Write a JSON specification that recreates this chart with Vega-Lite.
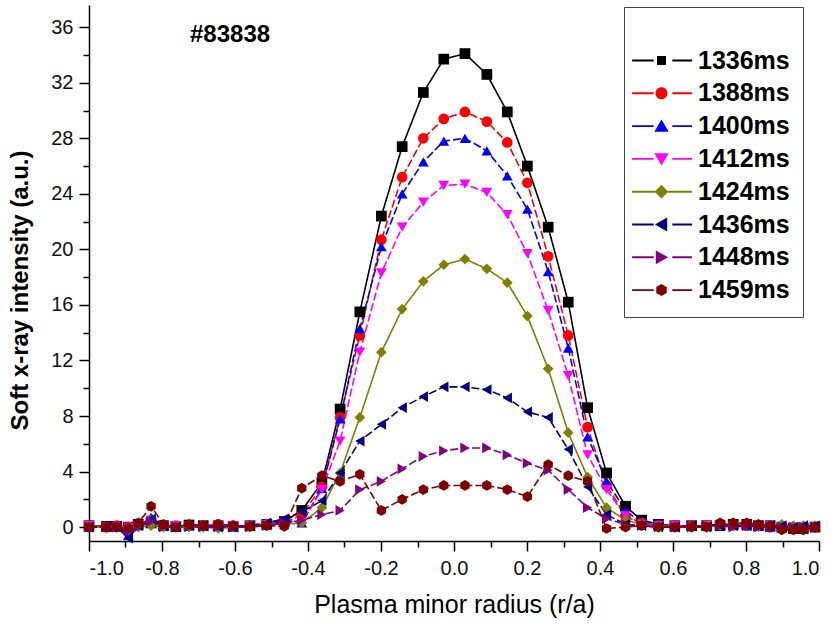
{
  "$schema": "https://vega.github.io/schema/vega-lite/v6.json",
  "autosize": "none",
  "padding": {"left": 89, "top": 5, "right": 17, "bottom": 86},
  "width": 730,
  "height": 536,
  "background": "white",
  "title": {"text": "#83838", "anchor": "start", "frame": "group", "dx": 101, "offset": -54, "baseline": "middle", "fontSize": 24, "fontWeight": "bold", "font": "Liberation Sans", "color": "#000"},
  "config": {
    "view": {"stroke": null},
    "axis": {"labelFont": "Liberation Sans", "titleFont": "Liberation Sans", "labelColor": "#111", "titleColor": "#000", "domainColor": "#000", "tickColor": "#000", "grid": false}
  },
  "data": {"values": [
{"r":-1,"t":"1336ms","v":0.1},{"r":-0.952,"t":"1336ms","v":0.05},{"r":-0.924,"t":"1336ms","v":0.05},{"r":-0.892,"t":"1336ms","v":0},{"r":-0.865,"t":"1336ms","v":0.2},{"r":-0.83,"t":"1336ms","v":0.3},{"r":-0.796,"t":"1336ms","v":0.1},{"r":-0.762,"t":"1336ms","v":0.05},{"r":-0.726,"t":"1336ms","v":0.15},{"r":-0.687,"t":"1336ms","v":0.1},{"r":-0.646,"t":"1336ms","v":0.1},{"r":-0.605,"t":"1336ms","v":0.05},{"r":-0.559,"t":"1336ms","v":0.1},{"r":-0.513,"t":"1336ms","v":0.2},{"r":-0.465,"t":"1336ms","v":0.4},{"r":-0.417,"t":"1336ms","v":1.2},{"r":-0.362,"t":"1336ms","v":3.2},{"r":-0.312,"t":"1336ms","v":8.5},{"r":-0.258,"t":"1336ms","v":15.5},{"r":-0.199,"t":"1336ms","v":22.4},{"r":-0.142,"t":"1336ms","v":27.4},{"r":-0.084,"t":"1336ms","v":31.3},{"r":-0.028,"t":"1336ms","v":33.7},{"r":0.03,"t":"1336ms","v":34.1},{"r":0.09,"t":"1336ms","v":32.6},{"r":0.146,"t":"1336ms","v":29.9},{"r":0.201,"t":"1336ms","v":26.0},{"r":0.258,"t":"1336ms","v":21.6},{"r":0.313,"t":"1336ms","v":16.2},{"r":0.366,"t":"1336ms","v":8.6},{"r":0.418,"t":"1336ms","v":3.9},{"r":0.47,"t":"1336ms","v":1.5},{"r":0.514,"t":"1336ms","v":0.5},{"r":0.56,"t":"1336ms","v":0.2},{"r":0.605,"t":"1336ms","v":0.1},{"r":0.651,"t":"1336ms","v":0.1},{"r":0.692,"t":"1336ms","v":0.1},{"r":0.729,"t":"1336ms","v":0.1},{"r":0.765,"t":"1336ms","v":0.2},{"r":0.802,"t":"1336ms","v":0.2},{"r":0.834,"t":"1336ms","v":0.1},{"r":0.866,"t":"1336ms","v":0.1},{"r":0.898,"t":"1336ms","v":0},{"r":0.93,"t":"1336ms","v":-0.1},{"r":0.957,"t":"1336ms","v":-0.1},{"r":0.989,"t":"1336ms","v":0},
{"r":-1,"t":"1388ms","v":0.1},{"r":-0.952,"t":"1388ms","v":0},{"r":-0.924,"t":"1388ms","v":0.1},{"r":-0.892,"t":"1388ms","v":0},{"r":-0.865,"t":"1388ms","v":0.2},{"r":-0.83,"t":"1388ms","v":0.4},{"r":-0.796,"t":"1388ms","v":0.1},{"r":-0.762,"t":"1388ms","v":0.1},{"r":-0.726,"t":"1388ms","v":0.1},{"r":-0.687,"t":"1388ms","v":0.1},{"r":-0.646,"t":"1388ms","v":0.2},{"r":-0.605,"t":"1388ms","v":0.1},{"r":-0.559,"t":"1388ms","v":0.1},{"r":-0.513,"t":"1388ms","v":0.2},{"r":-0.465,"t":"1388ms","v":0.3},{"r":-0.417,"t":"1388ms","v":0.9},{"r":-0.362,"t":"1388ms","v":2.9},{"r":-0.312,"t":"1388ms","v":7.9},{"r":-0.258,"t":"1388ms","v":13.8},{"r":-0.199,"t":"1388ms","v":20.7},{"r":-0.142,"t":"1388ms","v":25.2},{"r":-0.084,"t":"1388ms","v":28.0},{"r":-0.028,"t":"1388ms","v":29.4},{"r":0.03,"t":"1388ms","v":29.9},{"r":0.09,"t":"1388ms","v":29.2},{"r":0.146,"t":"1388ms","v":27.7},{"r":0.201,"t":"1388ms","v":24.8},{"r":0.258,"t":"1388ms","v":19.5},{"r":0.313,"t":"1388ms","v":13.8},{"r":0.366,"t":"1388ms","v":7.2},{"r":0.418,"t":"1388ms","v":3.0},{"r":0.47,"t":"1388ms","v":0.8},{"r":0.514,"t":"1388ms","v":0.3},{"r":0.56,"t":"1388ms","v":0.1},{"r":0.605,"t":"1388ms","v":0.1},{"r":0.651,"t":"1388ms","v":0.1},{"r":0.692,"t":"1388ms","v":0.1},{"r":0.729,"t":"1388ms","v":0.2},{"r":0.765,"t":"1388ms","v":0.2},{"r":0.802,"t":"1388ms","v":0.1},{"r":0.834,"t":"1388ms","v":0.1},{"r":0.866,"t":"1388ms","v":0},{"r":0.898,"t":"1388ms","v":0},{"r":0.93,"t":"1388ms","v":-0.1},{"r":0.957,"t":"1388ms","v":0},{"r":0.989,"t":"1388ms","v":0},
{"r":-1,"t":"1400ms","v":0},{"r":-0.952,"t":"1400ms","v":0},{"r":-0.924,"t":"1400ms","v":0.1},{"r":-0.892,"t":"1400ms","v":-0.6},{"r":-0.865,"t":"1400ms","v":0.1},{"r":-0.83,"t":"1400ms","v":0.7},{"r":-0.796,"t":"1400ms","v":0.1},{"r":-0.762,"t":"1400ms","v":0},{"r":-0.726,"t":"1400ms","v":0.1},{"r":-0.687,"t":"1400ms","v":0.1},{"r":-0.646,"t":"1400ms","v":0.1},{"r":-0.605,"t":"1400ms","v":0},{"r":-0.559,"t":"1400ms","v":0.1},{"r":-0.513,"t":"1400ms","v":0.3},{"r":-0.465,"t":"1400ms","v":0.5},{"r":-0.417,"t":"1400ms","v":0.3},{"r":-0.362,"t":"1400ms","v":2.8},{"r":-0.312,"t":"1400ms","v":7.8},{"r":-0.258,"t":"1400ms","v":14.3},{"r":-0.199,"t":"1400ms","v":20.2},{"r":-0.142,"t":"1400ms","v":24.0},{"r":-0.084,"t":"1400ms","v":26.3},{"r":-0.028,"t":"1400ms","v":27.8},{"r":0.03,"t":"1400ms","v":28.0},{"r":0.09,"t":"1400ms","v":27.1},{"r":0.146,"t":"1400ms","v":25.3},{"r":0.201,"t":"1400ms","v":22.9},{"r":0.258,"t":"1400ms","v":18.4},{"r":0.313,"t":"1400ms","v":12.9},{"r":0.366,"t":"1400ms","v":6.5},{"r":0.418,"t":"1400ms","v":3.3},{"r":0.47,"t":"1400ms","v":1.2},{"r":0.514,"t":"1400ms","v":0.3},{"r":0.56,"t":"1400ms","v":0.1},{"r":0.605,"t":"1400ms","v":0},{"r":0.651,"t":"1400ms","v":0.1},{"r":0.692,"t":"1400ms","v":0.1},{"r":0.729,"t":"1400ms","v":0.2},{"r":0.765,"t":"1400ms","v":0.1},{"r":0.802,"t":"1400ms","v":0.1},{"r":0.834,"t":"1400ms","v":0.1},{"r":0.866,"t":"1400ms","v":0},{"r":0.898,"t":"1400ms","v":0.1},{"r":0.93,"t":"1400ms","v":0},{"r":0.957,"t":"1400ms","v":0},{"r":0.989,"t":"1400ms","v":0.1},
{"r":-1,"t":"1412ms","v":0.1},{"r":-0.952,"t":"1412ms","v":0},{"r":-0.924,"t":"1412ms","v":0},{"r":-0.892,"t":"1412ms","v":0},{"r":-0.865,"t":"1412ms","v":0.1},{"r":-0.83,"t":"1412ms","v":0.5},{"r":-0.796,"t":"1412ms","v":0.1},{"r":-0.762,"t":"1412ms","v":0.1},{"r":-0.726,"t":"1412ms","v":0.1},{"r":-0.687,"t":"1412ms","v":0},{"r":-0.646,"t":"1412ms","v":0.1},{"r":-0.605,"t":"1412ms","v":0.1},{"r":-0.559,"t":"1412ms","v":0.1},{"r":-0.513,"t":"1412ms","v":0.2},{"r":-0.465,"t":"1412ms","v":0.3},{"r":-0.417,"t":"1412ms","v":0.3},{"r":-0.362,"t":"1412ms","v":2.7},{"r":-0.312,"t":"1412ms","v":6.2},{"r":-0.258,"t":"1412ms","v":12.6},{"r":-0.199,"t":"1412ms","v":18.3},{"r":-0.142,"t":"1412ms","v":21.6},{"r":-0.084,"t":"1412ms","v":23.4},{"r":-0.028,"t":"1412ms","v":24.6},{"r":0.03,"t":"1412ms","v":24.7},{"r":0.09,"t":"1412ms","v":24.1},{"r":0.146,"t":"1412ms","v":22.5},{"r":0.201,"t":"1412ms","v":19.7},{"r":0.258,"t":"1412ms","v":15.6},{"r":0.313,"t":"1412ms","v":10.9},{"r":0.366,"t":"1412ms","v":5.2},{"r":0.418,"t":"1412ms","v":2.7},{"r":0.47,"t":"1412ms","v":0.8},{"r":0.514,"t":"1412ms","v":0.2},{"r":0.56,"t":"1412ms","v":0.1},{"r":0.605,"t":"1412ms","v":0.1},{"r":0.651,"t":"1412ms","v":0},{"r":0.692,"t":"1412ms","v":0.1},{"r":0.729,"t":"1412ms","v":0.1},{"r":0.765,"t":"1412ms","v":0.1},{"r":0.802,"t":"1412ms","v":0.1},{"r":0.834,"t":"1412ms","v":0},{"r":0.866,"t":"1412ms","v":0.1},{"r":0.898,"t":"1412ms","v":0},{"r":0.93,"t":"1412ms","v":0},{"r":0.957,"t":"1412ms","v":0},{"r":0.989,"t":"1412ms","v":0},
{"r":-1,"t":"1424ms","v":0},{"r":-0.952,"t":"1424ms","v":0},{"r":-0.924,"t":"1424ms","v":0},{"r":-0.892,"t":"1424ms","v":-0.2},{"r":-0.865,"t":"1424ms","v":0},{"r":-0.83,"t":"1424ms","v":0.1},{"r":-0.796,"t":"1424ms","v":0},{"r":-0.762,"t":"1424ms","v":0},{"r":-0.726,"t":"1424ms","v":0},{"r":-0.687,"t":"1424ms","v":0},{"r":-0.646,"t":"1424ms","v":-0.1},{"r":-0.605,"t":"1424ms","v":0},{"r":-0.559,"t":"1424ms","v":0},{"r":-0.513,"t":"1424ms","v":0.2},{"r":-0.465,"t":"1424ms","v":0.2},{"r":-0.417,"t":"1424ms","v":0.3},{"r":-0.362,"t":"1424ms","v":1.4},{"r":-0.312,"t":"1424ms","v":3.9},{"r":-0.258,"t":"1424ms","v":7.9},{"r":-0.199,"t":"1424ms","v":12.6},{"r":-0.142,"t":"1424ms","v":15.7},{"r":-0.084,"t":"1424ms","v":17.7},{"r":-0.028,"t":"1424ms","v":18.9},{"r":0.03,"t":"1424ms","v":19.3},{"r":0.09,"t":"1424ms","v":18.6},{"r":0.146,"t":"1424ms","v":17.6},{"r":0.201,"t":"1424ms","v":15.2},{"r":0.258,"t":"1424ms","v":11.4},{"r":0.313,"t":"1424ms","v":6.8},{"r":0.366,"t":"1424ms","v":3.6},{"r":0.418,"t":"1424ms","v":1.4},{"r":0.47,"t":"1424ms","v":0.5},{"r":0.514,"t":"1424ms","v":0.2},{"r":0.56,"t":"1424ms","v":0},{"r":0.605,"t":"1424ms","v":0},{"r":0.651,"t":"1424ms","v":0},{"r":0.692,"t":"1424ms","v":0.1},{"r":0.729,"t":"1424ms","v":0.1},{"r":0.765,"t":"1424ms","v":0.1},{"r":0.802,"t":"1424ms","v":0.2},{"r":0.834,"t":"1424ms","v":0.1},{"r":0.866,"t":"1424ms","v":0.1},{"r":0.898,"t":"1424ms","v":0.2},{"r":0.93,"t":"1424ms","v":0.1},{"r":0.957,"t":"1424ms","v":0.1},{"r":0.989,"t":"1424ms","v":0.1},
{"r":-1,"t":"1436ms","v":0},{"r":-0.952,"t":"1436ms","v":0},{"r":-0.924,"t":"1436ms","v":0},{"r":-0.892,"t":"1436ms","v":-0.8},{"r":-0.865,"t":"1436ms","v":0.1},{"r":-0.83,"t":"1436ms","v":0.6},{"r":-0.796,"t":"1436ms","v":0.1},{"r":-0.762,"t":"1436ms","v":0},{"r":-0.726,"t":"1436ms","v":0.1},{"r":-0.687,"t":"1436ms","v":0.1},{"r":-0.646,"t":"1436ms","v":0},{"r":-0.605,"t":"1436ms","v":0},{"r":-0.559,"t":"1436ms","v":0.1},{"r":-0.513,"t":"1436ms","v":0.3},{"r":-0.465,"t":"1436ms","v":0.6},{"r":-0.417,"t":"1436ms","v":1.1},{"r":-0.362,"t":"1436ms","v":1.9},{"r":-0.312,"t":"1436ms","v":3.9},{"r":-0.258,"t":"1436ms","v":6.2},{"r":-0.199,"t":"1436ms","v":7.4},{"r":-0.142,"t":"1436ms","v":8.6},{"r":-0.084,"t":"1436ms","v":9.4},{"r":-0.028,"t":"1436ms","v":10.1},{"r":0.03,"t":"1436ms","v":10.1},{"r":0.09,"t":"1436ms","v":9.9},{"r":0.146,"t":"1436ms","v":9.3},{"r":0.201,"t":"1436ms","v":8.3},{"r":0.258,"t":"1436ms","v":7.9},{"r":0.313,"t":"1436ms","v":5.6},{"r":0.366,"t":"1436ms","v":2.9},{"r":0.418,"t":"1436ms","v":0.9},{"r":0.47,"t":"1436ms","v":0.2},{"r":0.514,"t":"1436ms","v":0.1},{"r":0.56,"t":"1436ms","v":0},{"r":0.605,"t":"1436ms","v":0},{"r":0.651,"t":"1436ms","v":0.1},{"r":0.692,"t":"1436ms","v":0},{"r":0.729,"t":"1436ms","v":0.1},{"r":0.765,"t":"1436ms","v":0.1},{"r":0.802,"t":"1436ms","v":0.1},{"r":0.834,"t":"1436ms","v":0.1},{"r":0.866,"t":"1436ms","v":0.1},{"r":0.898,"t":"1436ms","v":0.1},{"r":0.93,"t":"1436ms","v":0},{"r":0.957,"t":"1436ms","v":0.1},{"r":0.989,"t":"1436ms","v":0.1},
{"r":-1,"t":"1448ms","v":0},{"r":-0.952,"t":"1448ms","v":0},{"r":-0.924,"t":"1448ms","v":0},{"r":-0.892,"t":"1448ms","v":-0.3},{"r":-0.865,"t":"1448ms","v":0},{"r":-0.83,"t":"1448ms","v":0.4},{"r":-0.796,"t":"1448ms","v":0},{"r":-0.762,"t":"1448ms","v":0},{"r":-0.726,"t":"1448ms","v":0},{"r":-0.687,"t":"1448ms","v":0},{"r":-0.646,"t":"1448ms","v":0},{"r":-0.605,"t":"1448ms","v":0},{"r":-0.559,"t":"1448ms","v":0},{"r":-0.513,"t":"1448ms","v":0.1},{"r":-0.465,"t":"1448ms","v":0.3},{"r":-0.417,"t":"1448ms","v":0.5},{"r":-0.362,"t":"1448ms","v":0.9},{"r":-0.312,"t":"1448ms","v":1.2},{"r":-0.258,"t":"1448ms","v":2.7},{"r":-0.199,"t":"1448ms","v":3.3},{"r":-0.142,"t":"1448ms","v":4.2},{"r":-0.084,"t":"1448ms","v":5.1},{"r":-0.028,"t":"1448ms","v":5.5},{"r":0.03,"t":"1448ms","v":5.7},{"r":0.09,"t":"1448ms","v":5.7},{"r":0.146,"t":"1448ms","v":5.2},{"r":0.201,"t":"1448ms","v":4.6},{"r":0.258,"t":"1448ms","v":4.1},{"r":0.313,"t":"1448ms","v":2.7},{"r":0.366,"t":"1448ms","v":1.4},{"r":0.418,"t":"1448ms","v":0.6},{"r":0.47,"t":"1448ms","v":0.2},{"r":0.514,"t":"1448ms","v":0.1},{"r":0.56,"t":"1448ms","v":0},{"r":0.605,"t":"1448ms","v":0},{"r":0.651,"t":"1448ms","v":0},{"r":0.692,"t":"1448ms","v":0.1},{"r":0.729,"t":"1448ms","v":0.1},{"r":0.765,"t":"1448ms","v":0},{"r":0.802,"t":"1448ms","v":0.1},{"r":0.834,"t":"1448ms","v":0},{"r":0.866,"t":"1448ms","v":0},{"r":0.898,"t":"1448ms","v":0},{"r":0.93,"t":"1448ms","v":0},{"r":0.957,"t":"1448ms","v":0},{"r":0.989,"t":"1448ms","v":0},
{"r":-1,"t":"1459ms","v":0},{"r":-0.952,"t":"1459ms","v":0},{"r":-0.924,"t":"1459ms","v":0},{"r":-0.892,"t":"1459ms","v":-0.05},{"r":-0.865,"t":"1459ms","v":0.3},{"r":-0.83,"t":"1459ms","v":1.5},{"r":-0.796,"t":"1459ms","v":0.2},{"r":-0.762,"t":"1459ms","v":0},{"r":-0.726,"t":"1459ms","v":0.2},{"r":-0.687,"t":"1459ms","v":0.1},{"r":-0.646,"t":"1459ms","v":0.2},{"r":-0.605,"t":"1459ms","v":0.1},{"r":-0.559,"t":"1459ms","v":0.05},{"r":-0.513,"t":"1459ms","v":0.1},{"r":-0.465,"t":"1459ms","v":0.05},{"r":-0.417,"t":"1459ms","v":2.8},{"r":-0.362,"t":"1459ms","v":3.7},{"r":-0.312,"t":"1459ms","v":3.3},{"r":-0.258,"t":"1459ms","v":3.8},{"r":-0.199,"t":"1459ms","v":1.2},{"r":-0.142,"t":"1459ms","v":2.0},{"r":-0.084,"t":"1459ms","v":2.7},{"r":-0.028,"t":"1459ms","v":3.0},{"r":0.03,"t":"1459ms","v":3.0},{"r":0.09,"t":"1459ms","v":3.0},{"r":0.146,"t":"1459ms","v":2.7},{"r":0.201,"t":"1459ms","v":2.2},{"r":0.258,"t":"1459ms","v":4.5},{"r":0.313,"t":"1459ms","v":3.7},{"r":0.366,"t":"1459ms","v":3.3},{"r":0.418,"t":"1459ms","v":-0.1},{"r":0.47,"t":"1459ms","v":0},{"r":0.514,"t":"1459ms","v":0.1},{"r":0.56,"t":"1459ms","v":0},{"r":0.605,"t":"1459ms","v":0},{"r":0.651,"t":"1459ms","v":0},{"r":0.692,"t":"1459ms","v":0},{"r":0.729,"t":"1459ms","v":0.3},{"r":0.765,"t":"1459ms","v":0.3},{"r":0.802,"t":"1459ms","v":0.3},{"r":0.834,"t":"1459ms","v":0.2},{"r":0.866,"t":"1459ms","v":0.1},{"r":0.898,"t":"1459ms","v":-0.2},{"r":0.93,"t":"1459ms","v":-0.2},{"r":0.957,"t":"1459ms","v":-0.2},{"r":0.989,"t":"1459ms","v":0}
  ]},
  "resolve": {
    "scale": {"color": "independent", "shape": "independent", "strokeDash": "independent"},
    "axis": {"x": "independent", "y": "independent"}
  },
  "layer": [
    {
      "mark": {"type": "line", "strokeWidth": 1.6},
      "encoding": {
        "x": {"field": "r", "type": "quantitative", "scale": {"domain": [-1, 1], "nice": false},
          "axis": {"orient": "bottom", "values": [-1, -0.8, -0.6, -0.4, -0.2, 0, 0.2, 0.4, 0.6, 0.8, 1],
            "labelExpr": "datum.value < -0.001 ? '-' + format(-datum.value, '.1f') : format(datum.value, '.1f')",
            "tickSize": 10, "tickWidth": 1.5, "domainWidth": 1.5, "labelFontSize": 20, "labelPadding": 7,
            "title": "Plasma minor radius (r/a)", "titleFontSize": 25, "titleFontWeight": "normal", "titlePadding": 14}},
        "y": {"field": "v", "type": "quantitative", "scale": {"domain": [-1, 37.6], "nice": false, "zero": false},
          "axis": {"orient": "left", "values": [0, 4, 8, 12, 16, 20, 24, 28, 32, 36], "format": "d",
            "tickSize": 10, "tickWidth": 1.5, "domainWidth": 1.5, "labelFontSize": 20, "labelPadding": 6,
            "title": "Soft x-ray intensity (a.u.)", "titleFontSize": 24, "titleFontWeight": "bold",
            "titleX": -62, "titleY": 285, "titleAngle": -90, "titleBaseline": "alphabetic", "titleAlign": "center"}},
        "color": {"field": "t", "type": "nominal", "legend": null,
          "scale": {"domain": ["1336ms","1388ms","1400ms","1412ms","1424ms","1436ms","1448ms","1459ms"],
                    "range": ["#000000","#ff0000","#0000ff","#ff00ff","#808000","#000080","#800080","#800000"]}},
        "strokeDash": {"field": "t", "type": "nominal", "legend": null,
          "scale": {"domain": ["1336ms","1388ms","1400ms","1412ms","1424ms","1436ms","1448ms","1459ms"],
                    "range": [[1,0],[8,3],[8,3],[8,3],[1,0],[8,3],[8,3],[8,3]]}}
      }
    },
    {
      "mark": {"type": "point", "filled": true, "opacity": 1, "size": 115},
      "encoding": {
        "x": {"field": "r", "type": "quantitative",
          "axis": {"orient": "bottom", "values": [-0.9, -0.7, -0.5, -0.3, -0.1, 0.1, 0.3, 0.5, 0.7, 0.9],
            "labels": false, "domain": false, "tickSize": 6, "tickWidth": 1.5, "title": null}},
        "y": {"field": "v", "type": "quantitative",
          "axis": {"orient": "left", "values": [2, 6, 10, 14, 18, 22, 26, 30, 34],
            "labels": false, "domain": false, "tickSize": 6, "tickWidth": 1.5, "title": null}},
        "color": {"field": "t", "type": "nominal", "legend": null,
          "scale": {"domain": ["1336ms","1388ms","1400ms","1412ms","1424ms","1436ms","1448ms","1459ms"],
                    "range": ["#000000","#ff0000","#0000ff","#ff00ff","#808000","#000080","#800080","#800000"]}},
        "shape": {"field": "t", "type": "nominal", "legend": null,
          "scale": {"domain": ["1336ms","1388ms","1400ms","1412ms","1424ms","1436ms","1448ms","1459ms"],
                    "range": ["square","circle","triangle-up","triangle-down","diamond","triangle-left","triangle-right","M0,-1L0.87,-0.5V0.5L0,1L-0.87,0.5V-0.5Z"]}}
      }
    },
    {
      "transform": [{"filter": "false"}],
      "mark": {"type": "point", "filled": true, "opacity": 1},
      "encoding": {
        "x": {"field": "r", "type": "quantitative", "axis": null},
        "y": {"field": "v", "type": "quantitative", "axis": null},
        "color": {"field": "t", "type": "nominal",
          "scale": {"domain": ["1336ms","1388ms","1400ms","1412ms","1424ms","1436ms","1448ms","1459ms"],
                    "range": ["#000000","#ff0000","#0000ff","#ff00ff","#808000","#000080","#800080","#800000"]},
          "legend": {"orient": "none", "legendX": 535, "legendY": 2, "title": " ", "titleFontSize": 20, "titlePadding": 8,
            "padding": 13, "strokeColor": "#444", "fillColor": "white",
            "labelFont": "Liberation Sans", "labelFontSize": 25, "labelFontWeight": "bold", "labelColor": "#000",
            "labelOffset": 36, "symbolSize": 144, "symbolStrokeWidth": 0, "rowPadding": 6.8}},
        "shape": {"field": "t", "type": "nominal",
          "scale": {"domain": ["1336ms","1388ms","1400ms","1412ms","1424ms","1436ms","1448ms","1459ms"],
                    "range": [
                      "M-2.9,-0.16H0.7V0.16H-2.9ZM3.8,-0.16H7.1V0.16H3.8ZM1.25,-0.75H2.75V0.75H1.25Z",
                      "M-2.9,-0.16H0.7V0.16H-2.9ZM3.8,-0.16H7.1V0.16H3.8ZM3,0A1,1 0 1,1 1,0A1,1 0 1,1 3,0Z",
                      "M-2.9,-0.16H0.7V0.16H-2.9ZM3.8,-0.16H7.1V0.16H3.8ZM2,-1.1L3.2,0.95H0.8Z",
                      "M-2.9,-0.16H0.7V0.16H-2.9ZM3.8,-0.16H7.1V0.16H3.8ZM2,1.1L3.2,-0.95H0.8Z",
                      "M-2.9,-0.16H0.9V0.16H-2.9ZM3.1,-0.16H7.1V0.16H3.1ZM2,-1.15L3.15,0L2,1.15L0.85,0Z",
                      "M-2.9,-0.16H0.7V0.16H-2.9ZM3.8,-0.16H7.1V0.16H3.8ZM0.9,0L2.95,-1.15V1.15Z",
                      "M-2.9,-0.16H0.7V0.16H-2.9ZM3.8,-0.16H7.1V0.16H3.8ZM3.1,0L1.05,-1.15V1.15Z",
                      "M-2.9,-0.16H0.7V0.16H-2.9ZM3.8,-0.16H7.1V0.16H3.8ZM2,-1L2.87,-0.5V0.5L2,1L1.13,0.5V-0.5Z"
                    ]},
          "legend": {"orient": "none", "legendX": 535, "legendY": 2, "title": " ", "titleFontSize": 20, "titlePadding": 8,
            "padding": 13, "strokeColor": "#444", "fillColor": "white",
            "labelFont": "Liberation Sans", "labelFontSize": 25, "labelFontWeight": "bold", "labelColor": "#000",
            "labelOffset": 36, "symbolSize": 144, "symbolStrokeWidth": 0, "rowPadding": 6.8}}
      }
    }
  ]
}
